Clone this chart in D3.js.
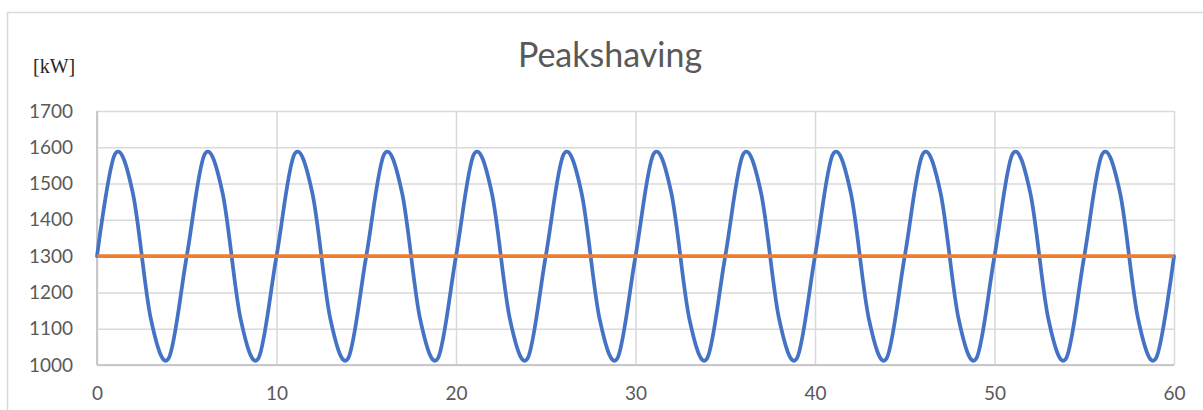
<!DOCTYPE html>
<html>
<head>
<meta charset="utf-8">
<script src="https://cdn.jsdelivr.net/npm/d3@7"></script>
<style>
  body { margin: 0; background: #fff; }
  svg { display: block; }
</style>
</head>
<body>
<div class="chart"></div>
<script>
var w = 1203;
var h = 410;

// minutes (x) and load values
var minutes = [0, 1, 2, 3, 4, 5, 6, 7, 8, 9, 10, 11, 12, 13, 14, 15, 16, 17, 18, 19, 20,
               21, 22, 23, 24, 25, 26, 27, 28, 29, 30, 31, 32, 33, 34, 35, 36, 37, 38, 39, 40,
               41, 42, 43, 44, 45, 46, 47, 48, 49, 50, 51, 52, 53, 54, 55, 56, 57, 58, 59, 60];

var load = [1300, 1581, 1473, 1127, 1019, 1300, 1581, 1473, 1127, 1019,
            1300, 1581, 1473, 1127, 1019, 1300, 1581, 1473, 1127, 1019,
            1300, 1581, 1473, 1127, 1019, 1300, 1581, 1473, 1127, 1019,
            1300, 1581, 1473, 1127, 1019, 1300, 1581, 1473, 1127, 1019,
            1300, 1581, 1473, 1127, 1019, 1300, 1581, 1473, 1127, 1019,
            1300, 1581, 1473, 1127, 1019, 1300, 1581, 1473, 1127, 1019,
            1300];

var peakLimit = [1300, 1300, 1300, 1300, 1300, 1300, 1300, 1300, 1300, 1300,
                 1300, 1300, 1300, 1300, 1300, 1300, 1300, 1300, 1300, 1300,
                 1300, 1300, 1300, 1300, 1300, 1300, 1300, 1300, 1300, 1300,
                 1300, 1300, 1300, 1300, 1300, 1300, 1300, 1300, 1300, 1300,
                 1300, 1300, 1300, 1300, 1300, 1300, 1300, 1300, 1300, 1300,
                 1300, 1300, 1300, 1300, 1300, 1300, 1300, 1300, 1300, 1300,
                 1300];

var xTicks = [0, 10, 20, 30, 40, 50, 60];
var yTicks = [1000, 1100, 1200, 1300, 1400, 1500, 1600, 1700];

var plot = { left: 97, right: 1174, top: 111, bottom: 365 };

var xScale = d3.scaleLinear()
                .domain([0, 60])
                .range([plot.left, plot.right]);

var yScale = d3.scaleLinear()
                .domain([1000, 1700])
                .range([plot.bottom, plot.top]);

var svg = d3.select(".chart")
            .append("svg")
            .attr("width", w)
            .attr("height", h);

svg.append("rect")
    .attr("width", w)
    .attr("height", h)
    .attr("fill", "#fff");

// chart area border
svg.append("rect")
    .attr("x", 7.5)
    .attr("y", 12.5)
    .attr("width", 1210)
    .attr("height", 420)
    .attr("fill", "none")
    .attr("stroke", "#D9D9D9")
    .attr("stroke-width", 1.5);

// gridlines
svg.append("g")
    .attr("transform", "translate(0," + plot.bottom + ")")
    .call(d3.axisBottom(xScale).tickValues(xTicks).tickSize(-(plot.bottom - plot.top)).tickFormat(""))
    .call(function (g) { g.select(".domain").remove(); })
    .selectAll("line")
    .attr("stroke", "#D9D9D9")
    .attr("stroke-width", 1.5);

svg.append("g")
    .attr("transform", "translate(" + plot.left + ",0)")
    .call(d3.axisLeft(yScale).tickValues(yTicks).tickSize(-(plot.right - plot.left)).tickFormat(""))
    .call(function (g) { g.select(".domain").remove(); })
    .selectAll("line")
    .attr("stroke", "#D9D9D9")
    .attr("stroke-width", 1.5);

// axis lines
svg.append("line")
    .attr("x1", plot.left).attr("x2", plot.right)
    .attr("y1", plot.bottom).attr("y2", plot.bottom)
    .attr("stroke", "#C8C8C8")
    .attr("stroke-width", 2);

svg.append("line")
    .attr("x1", plot.left).attr("x2", plot.left)
    .attr("y1", plot.top).attr("y2", plot.bottom)
    .attr("stroke", "#C8C8C8")
    .attr("stroke-width", 2);

// tick labels
var yAxis = svg.append("g")
    .attr("transform", "translate(" + plot.left + ",0)")
    .call(d3.axisLeft(yScale).tickValues(yTicks).tickSize(0).tickPadding(24).tickFormat(d3.format("d")));
yAxis.select(".domain").remove();
yAxis.selectAll("text")
    .attr("font-family", "Lato, sans-serif")
    .attr("font-size", "19px")
    .attr("fill", "#595959");

var xAxis = svg.append("g")
    .attr("transform", "translate(0," + plot.bottom + ")")
    .call(d3.axisBottom(xScale).tickValues(xTicks).tickSize(0).tickPadding(22).tickFormat(d3.format("d")));
xAxis.select(".domain").remove();
xAxis.selectAll("text")
    .attr("font-family", "Lato, sans-serif")
    .attr("font-size", "19px")
    .attr("fill", "#595959");

// series
var line = d3.line()
    .x(function (d, i) { return xScale(minutes[i]); })
    .y(function (d) { return yScale(d); })
    .curve(d3.curveCardinal.tension(0));

svg.append("path")
    .datum(load)
    .attr("d", line)
    .attr("fill", "none")
    .attr("stroke", "#4472C4")
    .attr("stroke-width", 3.75)
    .attr("stroke-linejoin", "round")
    .attr("stroke-linecap", "round");

svg.append("path")
    .datum(peakLimit)
    .attr("d", line)
    .attr("fill", "none")
    .attr("stroke", "#ED7D31")
    .attr("stroke-width", 3.75);

// title and unit
svg.append("text")
    .text("Peakshaving")
    .attr("x", 610)
    .attr("y", 67)
    .attr("text-anchor", "middle")
    .attr("font-family", "Lato, sans-serif")
    .attr("font-size", "34px")
    .attr("fill", "#595959");

svg.append("text")
    .text("[kW]")
    .attr("x", 33)
    .attr("y", 73)
    .attr("font-family", "'Liberation Serif', serif")
    .attr("font-size", "20px")
    .attr("fill", "#262626");
</script>
</body>
</html>
